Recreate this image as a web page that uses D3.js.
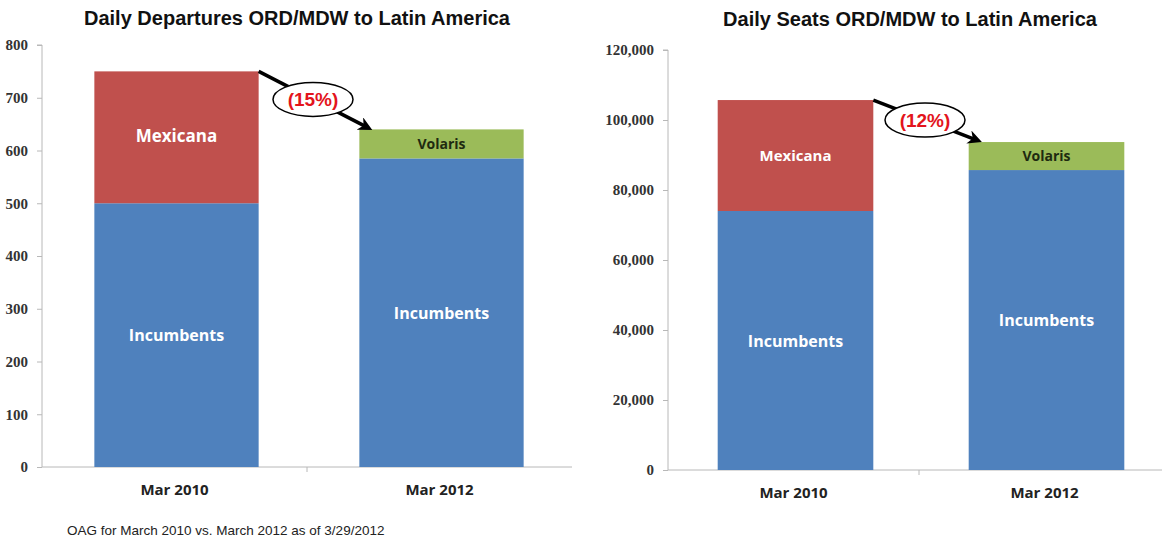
<!DOCTYPE html>
<html>
<head>
<meta charset="utf-8">
<script src="https://cdn.jsdelivr.net/npm/d3@7"></script>
<style>
  body { margin: 0; background: #fff; }
  svg { display: block; }
</style>
</head>
<body>
<svg id="chart" width="1162" height="541"></svg>
<script>
// data
const categories = ['Mar 2010', 'Mar 2012'];
const departuresIncumbents = [500, 585];
const departuresNew = [250, 55];          // Mexicana in 2010, Volaris in 2012
const departuresTicks = [0, 100, 200, 300, 400, 500, 600, 700, 800];
const seatsIncumbents = [74000, 85700];
const seatsNew = [31700, 8000];
const seatsTicks = [0, 20000, 40000, 60000, 80000, 100000, 120000];
const newLabels = ['Mexicana', 'Volaris'];
const changeLabels = ['(15%)', '(12%)'];

const blue = '#4f81bd', red = '#c0504d', green = '#9bbb59';
const svg = d3.select('#chart');

function drawPanel(opts) {
  const { left, right, top, bottom, max, ticks, fmt, incumbents, extra, change, title, titleX, titleY, extraSize } = opts;
  const g = svg.append('g');

  const x = d3.scaleBand().domain(categories).range([left, right]).paddingInner(0).paddingOuter(0);
  const y = d3.scaleLinear().domain([0, max]).range([bottom, top]);
  const barW = x.bandwidth() * 0.62;
  const bx = d => x(d) + (x.bandwidth() - barW) / 2 + 2;

  // title
  g.append('text')
    .attr('x', titleX).attr('y', titleY)
    .attr('text-anchor', 'middle')
    .attr('font-family', 'Liberation Sans, Arial, sans-serif')
    .attr('font-weight', 'bold')
    .attr('font-size', 20)
    .attr('fill', '#111')
    .text(title);

  // y axis
  const yAxis = g.append('g')
    .attr('transform', `translate(${left},0)`)
    .call(d3.axisLeft(y).tickValues(ticks).tickFormat(fmt).tickSize(5).tickPadding(9));
  yAxis.selectAll('path, line').attr('stroke', '#b8b8b8');
  yAxis.select('.domain').attr('d', `M-5,${top}H0V${bottom}`);
  yAxis.selectAll('text')
    .attr('font-family', 'Liberation Serif, DejaVu Serif, serif')
    .attr('font-weight', 'bold')
    .attr('font-size', 15)
    .attr('fill', '#333');

  // x axis
  const xAxis = g.append('g')
    .attr('transform', `translate(0,${bottom})`)
    .call(d3.axisBottom(x).tickSize(0).tickPadding(17));
  xAxis.select('.domain').attr('stroke', '#b8b8b8').attr('d', `M${left},0H${right}`);
  xAxis.selectAll('text')
    .attr('font-family', 'Open Sans, Lato, sans-serif')
    .attr('font-weight', 'bold')
    .attr('font-size', 15)
    .attr('fill', '#222');
  // category divider ticks
  g.selectAll('.divider')
    .data(categories.slice(1))
    .enter().append('line')
    .attr('x1', d => x(d)).attr('x2', d => x(d))
    .attr('y1', bottom).attr('y2', bottom + 5)
    .attr('stroke', '#b8b8b8');

  // incumbents bars
  g.selectAll('.inc')
    .data(categories)
    .enter().append('rect')
    .attr('x', d => bx(d))
    .attr('width', barW)
    .attr('y', (d, i) => y(incumbents[i]))
    .attr('height', (d, i) => y(0) - y(incumbents[i]))
    .attr('fill', blue);

  // Mexicana / Volaris segment
  g.selectAll('.extra')
    .data(categories)
    .enter().append('rect')
    .attr('x', d => bx(d))
    .attr('width', barW)
    .attr('y', (d, i) => y(incumbents[i] + extra[i]))
    .attr('height', (d, i) => y(incumbents[i]) - y(incumbents[i] + extra[i]))
    .attr('fill', (d, i) => i === 0 ? red : green);

  // bar labels
  g.selectAll('.incLabel')
    .data(categories)
    .enter().append('text')
    .attr('x', d => bx(d) + barW / 2)
    .attr('y', (d, i) => (y(0) + y(incumbents[i])) / 2 + 6)
    .attr('text-anchor', 'middle')
    .attr('font-family', 'Open Sans, Lato, sans-serif')
    .attr('font-weight', 'bold')
    .attr('font-size', 16)
    .attr('fill', '#fff')
    .text('Incumbents');

  g.selectAll('.extraLabel')
    .data(categories)
    .enter().append('text')
    .attr('x', d => bx(d) + barW / 2)
    .attr('y', (d, i) => (y(incumbents[i]) + y(incumbents[i] + extra[i])) / 2 + 5)
    .attr('text-anchor', 'middle')
    .attr('font-family', 'Open Sans, Lato, sans-serif')
    .attr('font-weight', 'bold')
    .attr('font-size', (d, i) => i === 0 ? extraSize : 14)
    .attr('fill', (d, i) => i === 0 ? '#fff' : '#1e2a10')
    .text((d, i) => newLabels[i]);

  // arrow from 2010 top to 2012 top
  const x1 = bx(categories[0]) + barW, y1 = y(incumbents[0] + extra[0]);
  const x2 = bx(categories[1]) + 8, y2 = y(incumbents[1] + extra[1]) - 2;
  g.append('line')
    .attr('x1', x1).attr('y1', y1).attr('x2', x2).attr('y2', y2)
    .attr('stroke', '#000').attr('stroke-width', 3.5)
    .attr('marker-end', 'url(#arrowhead)');

  const cx = (x1 + x2) / 2, cy = (y1 + y2) / 2;
  g.append('ellipse')
    .attr('cx', cx).attr('cy', cy)
    .attr('rx', 40).attr('ry', 17)
    .attr('fill', '#fff').attr('stroke', '#000').attr('stroke-width', 1.5);
  g.append('text')
    .attr('x', cx).attr('y', cy + 7)
    .attr('text-anchor', 'middle')
    .attr('font-family', 'Liberation Sans, Arial, sans-serif')
    .attr('font-weight', 'bold')
    .attr('font-size', 19)
    .attr('fill', '#e3141c')
    .text(change);
}

svg.append('defs').append('marker')
  .attr('id', 'arrowhead')
  .attr('viewBox', '0 0 10 10')
  .attr('refX', 6).attr('refY', 5)
  .attr('markerWidth', 4).attr('markerHeight', 4)
  .attr('orient', 'auto')
  .append('path')
  .attr('d', 'M0,0L10,5L0,10L3,5Z')
  .attr('fill', '#000');

drawPanel({
  left: 42, right: 572, top: 45, bottom: 467, max: 800,
  ticks: departuresTicks, fmt: d3.format('d'),
  incumbents: departuresIncumbents, extra: departuresNew, change: changeLabels[0],
  title: 'Daily Departures ORD/MDW to Latin America', titleX: 297, titleY: 25, extraSize: 17
});

drawPanel({
  left: 668, right: 1170, top: 50, bottom: 470, max: 120000,
  ticks: seatsTicks, fmt: d3.format(','),
  incumbents: seatsIncumbents, extra: seatsNew, change: changeLabels[1],
  title: 'Daily Seats ORD/MDW to Latin America', titleX: 910, titleY: 26, extraSize: 15
});

svg.append('text')
  .attr('x', 67).attr('y', 535)
  .attr('font-family', 'Liberation Sans, Arial, sans-serif')
  .attr('font-size', 13.5)
  .attr('fill', '#222')
  .text('OAG for March 2010 vs. March 2012 as of 3/29/2012');
</script>
</body>
</html>
